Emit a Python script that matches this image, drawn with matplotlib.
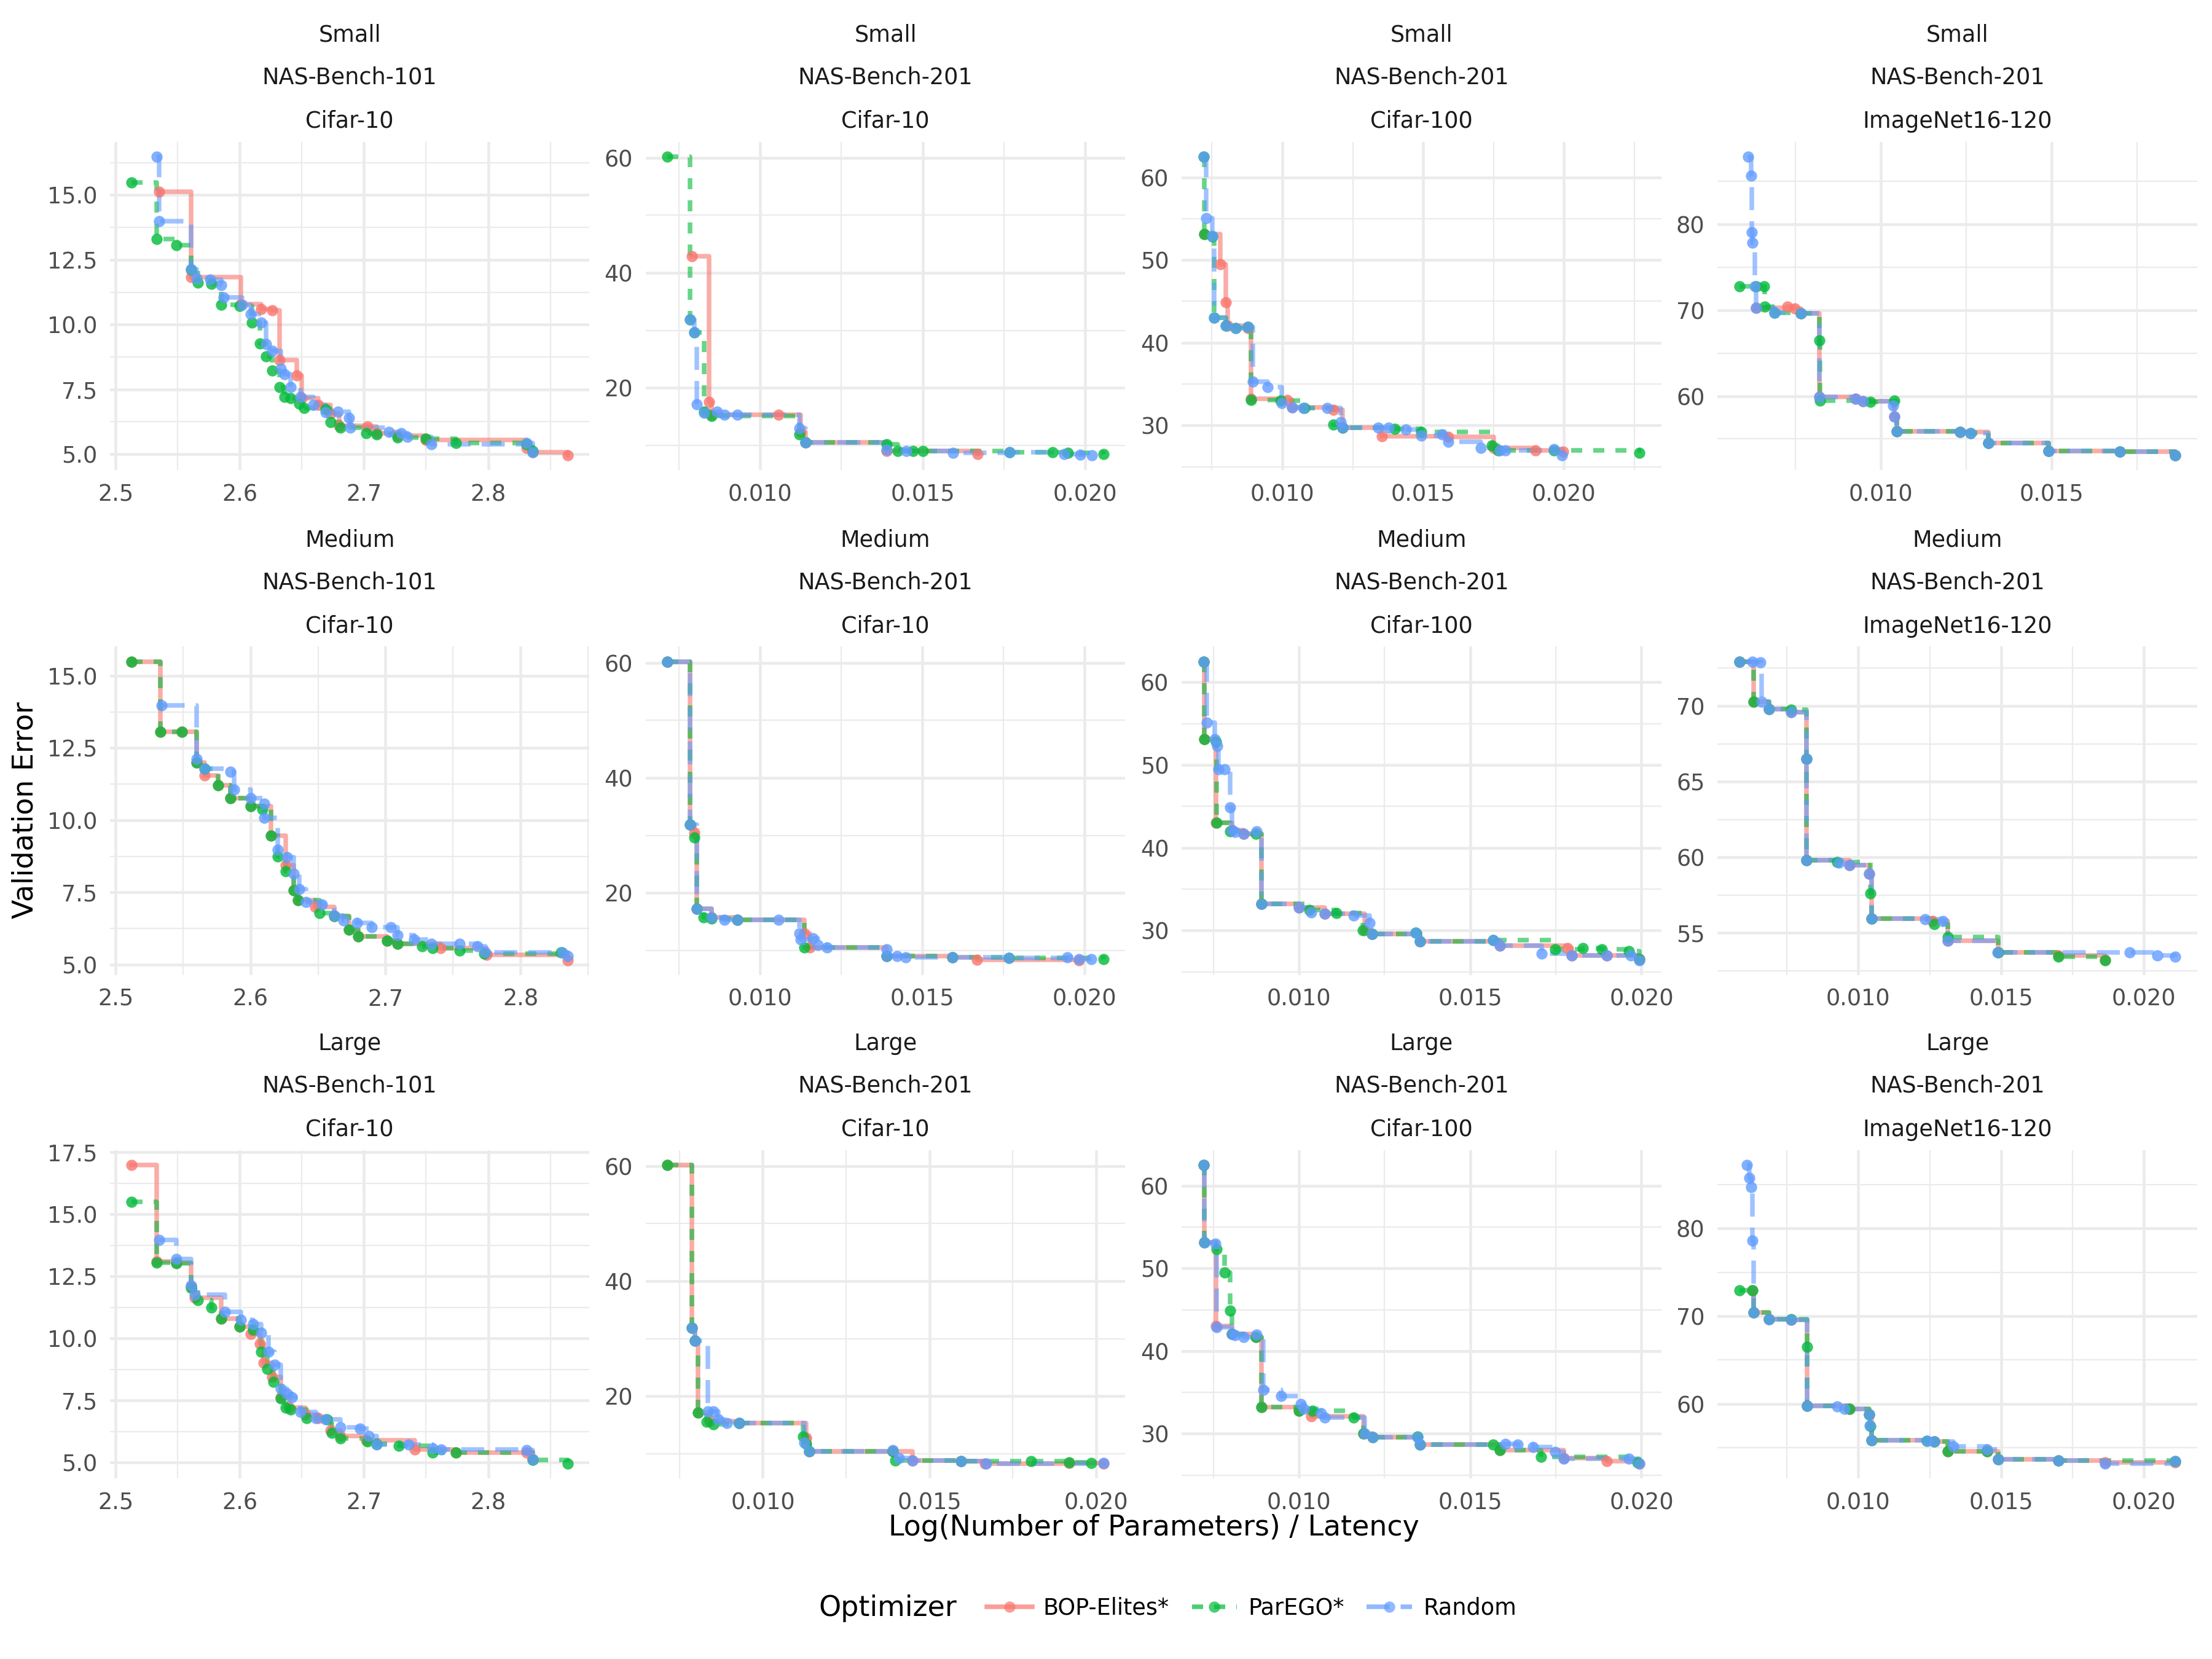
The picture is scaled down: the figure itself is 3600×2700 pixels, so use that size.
import matplotlib
matplotlib.use("Agg")
import matplotlib.pyplot as plt
from matplotlib.lines import Line2D
from matplotlib.ticker import MultipleLocator, FormatStrFormatter

# facet labels
sizes = ["Small", "Medium", "Large"]
benchmarks = ["NAS-Bench-101", "NAS-Bench-201", "NAS-Bench-201", "NAS-Bench-201"]
datasets = ["Cifar-10", "Cifar-10", "Cifar-100", "ImageNet16-120"]
optimizers = ["BOP-Elites*", "ParEGO*", "Random"]

# ---- Small / NAS-Bench-101 / Cifar-10
s101_bop_x = [2.535, 2.561, 2.601, 2.617, 2.626, 2.632, 2.646, 2.650, 2.663, 2.673, 2.680, 2.703, 2.710, 2.727, 2.750, 2.831, 2.836, 2.864]
s101_bop_y = [15.13, 11.82, 10.80, 10.59, 10.55, 8.64, 8.05, 7.16, 6.90, 6.57, 6.10, 6.06, 5.80, 5.72, 5.55, 5.25, 5.08, 4.96]
s101_par_x = [2.513, 2.533, 2.549, 2.561, 2.566, 2.577, 2.585, 2.600, 2.610, 2.616, 2.621, 2.626, 2.632, 2.636, 2.641, 2.648, 2.652, 2.669, 2.673, 2.681, 2.702, 2.710, 2.727, 2.750, 2.774, 2.831, 2.836]
s101_par_y = [15.48, 13.31, 13.07, 12.12, 11.62, 11.57, 10.76, 10.72, 10.08, 9.28, 8.77, 8.22, 7.58, 7.20, 7.16, 6.95, 6.78, 6.74, 6.23, 6.02, 5.80, 5.76, 5.64, 5.60, 5.42, 5.38, 5.13]
s101_rnd_x = [2.533, 2.535, 2.561, 2.565, 2.576, 2.585, 2.587, 2.602, 2.609, 2.617, 2.621, 2.626, 2.633, 2.636, 2.641, 2.649, 2.659, 2.669, 2.679, 2.688, 2.689, 2.720, 2.730, 2.735, 2.754, 2.831, 2.836]
s101_rnd_y = [16.48, 14.00, 12.14, 11.78, 11.74, 11.53, 11.06, 10.76, 10.42, 10.08, 9.24, 8.98, 8.30, 8.09, 7.58, 7.20, 6.90, 6.61, 6.65, 6.40, 6.02, 5.85, 5.80, 5.68, 5.38, 5.42, 5.08]

# ---- Small / NAS-Bench-201 / Cifar-10
s201c10_bop_x = [0.00790, 0.00843, 0.00850, 0.01057, 0.01124, 0.01140, 0.01390, 0.01669]
s201c10_bop_y = [42.9, 17.6, 15.3, 15.3, 12.3, 10.57, 9.05, 8.48]
s201c10_par_x = [0.00715, 0.00785, 0.00798, 0.00827, 0.00851, 0.01121, 0.01140, 0.01390, 0.01423, 0.01470, 0.01500, 0.01767, 0.01900, 0.01947, 0.02056]
s201c10_par_y = [60.2, 31.86, 29.6, 15.9, 15.1, 11.9, 10.57, 10.2, 9.05, 9.05, 9.05, 8.86, 8.86, 8.67, 8.48]
s201c10_rnd_x = [0.00785, 0.00798, 0.00805, 0.00827, 0.00867, 0.00891, 0.00930, 0.01121, 0.01140, 0.01390, 0.01449, 0.01594, 0.01767, 0.01936, 0.01984, 0.02021]
s201c10_rnd_y = [31.86, 29.6, 17.2, 15.7, 15.9, 15.3, 15.3, 13.0, 10.57, 9.24, 9.05, 8.67, 8.86, 8.48, 8.40, 8.30]

# ---- Small / NAS-Bench-201 / Cifar-100
s201c100_bop_x = [0.00724, 0.00779, 0.00800, 0.00807, 0.00877, 0.00889, 0.01017, 0.01035, 0.01182, 0.01215, 0.01353, 0.01590, 0.01750, 0.01900, 0.01998]
s201c100_bop_y = [53.1, 49.5, 44.9, 42.1, 41.8, 33.2, 33.1, 32.2, 31.9, 29.7, 28.7, 28.6, 27.3, 27.0, 26.8]
s201c100_par_x = [0.00720, 0.00724, 0.00752, 0.00757, 0.00800, 0.00834, 0.00877, 0.00889, 0.00993, 0.01078, 0.01182, 0.01215, 0.01400, 0.01494, 0.01745, 0.01765, 0.01965, 0.02268]
s201c100_par_y = [62.5, 53.1, 52.8, 43.0, 42.1, 41.8, 41.9, 33.1, 33.0, 32.1, 30.1, 29.7, 29.6, 29.2, 27.6, 27.0, 27.0, 26.7]
s201c100_rnd_x = [0.00720, 0.00730, 0.00752, 0.00757, 0.00800, 0.00834, 0.00877, 0.00895, 0.00947, 0.00999, 0.01035, 0.01075, 0.01160, 0.01207, 0.01215, 0.01341, 0.01378, 0.01439, 0.01494, 0.01567, 0.01589, 0.01705, 0.01773, 0.01793, 0.01965, 0.01993]
s201c100_rnd_y = [62.5, 55.1, 52.9, 43.0, 42.1, 41.8, 41.9, 35.3, 34.6, 32.7, 32.2, 32.1, 32.1, 30.4, 29.7, 29.7, 29.7, 29.5, 28.8, 28.9, 28.0, 27.3, 27.0, 27.0, 27.1, 26.4]

# ---- Small / NAS-Bench-201 / ImageNet16-120
s201in_bop_x = [0.00633, 0.00726, 0.00747, 0.00765, 0.00819, 0.00926, 0.00948, 0.01039, 0.01046, 0.01232, 0.01315, 0.01491, 0.01700, 0.01863]
s201in_bop_y = [70.3, 70.4, 70.2, 69.6, 59.9, 59.7, 59.4, 57.6, 55.9, 55.8, 54.5, 53.6, 53.5, 53.1]
s201in_par_x = [0.00585, 0.00633, 0.00657, 0.00659, 0.00688, 0.00765, 0.00819, 0.00822, 0.00969, 0.01039, 0.01046, 0.01232, 0.01263, 0.01315, 0.01491, 0.01700, 0.01863]
s201in_par_y = [72.8, 72.8, 72.8, 70.4, 69.7, 69.6, 66.5, 59.5, 59.3, 59.5, 55.9, 55.8, 55.7, 54.5, 53.6, 53.5, 53.1]
s201in_rnd_x = [0.00610, 0.00620, 0.00621, 0.00623, 0.00630, 0.00633, 0.00688, 0.00765, 0.00819, 0.00926, 0.00948, 0.01036, 0.01039, 0.01046, 0.01232, 0.01263, 0.01315, 0.01491, 0.01700, 0.01863]
s201in_rnd_y = [87.9, 85.7, 79.1, 77.9, 72.8, 70.3, 69.7, 69.6, 59.9, 59.7, 59.4, 58.9, 57.6, 55.9, 55.8, 55.7, 54.5, 53.6, 53.5, 53.1]

# ---- Medium / NAS-Bench-101 / Cifar-10
m101_bop_x = [2.512, 2.533, 2.549, 2.560, 2.566, 2.576, 2.585, 2.600, 2.615, 2.626, 2.632, 2.635, 2.648, 2.662, 2.673, 2.680, 2.701, 2.709, 2.741, 2.775, 2.835]
m101_bop_y = [15.49, 13.07, 13.07, 12.00, 11.55, 11.21, 10.76, 10.49, 9.47, 8.45, 7.58, 7.23, 7.00, 6.67, 6.21, 5.98, 5.83, 5.72, 5.57, 5.34, 5.15]
m101_par_x = [2.512, 2.533, 2.549, 2.560, 2.566, 2.576, 2.585, 2.600, 2.609, 2.615, 2.620, 2.626, 2.632, 2.635, 2.651, 2.662, 2.673, 2.680, 2.701, 2.709, 2.727, 2.735, 2.755, 2.773, 2.830]
m101_par_y = [15.49, 13.07, 13.07, 12.00, 11.78, 11.21, 10.76, 10.49, 10.38, 9.47, 8.75, 8.22, 7.58, 7.23, 6.78, 6.67, 6.21, 5.98, 5.83, 5.72, 5.64, 5.57, 5.49, 5.38, 5.42]
m101_rnd_x = [2.534, 2.560, 2.566, 2.585, 2.588, 2.600, 2.610, 2.610, 2.620, 2.627, 2.632, 2.636, 2.641, 2.653, 2.662, 2.669, 2.679, 2.690, 2.704, 2.709, 2.721, 2.734, 2.755, 2.768, 2.774, 2.831, 2.835]
m101_rnd_y = [13.98, 12.12, 11.78, 11.67, 11.06, 10.76, 10.57, 10.08, 8.98, 8.71, 8.14, 7.61, 7.16, 7.08, 6.70, 6.52, 6.44, 6.29, 6.29, 6.02, 5.87, 5.72, 5.72, 5.64, 5.42, 5.42, 5.30]

# ---- Medium / NAS-Bench-201 / Cifar-10
m201c10_bop_x = [0.00715, 0.00785, 0.00798, 0.00805, 0.00850, 0.00930, 0.01137, 0.01153, 0.01390, 0.01594, 0.01669, 0.01984]
m201c10_bop_y = [60.2, 31.86, 30.5, 17.2, 15.7, 15.3, 13.0, 10.57, 9.05, 8.86, 8.40, 8.30]
m201c10_par_x = [0.00715, 0.00785, 0.00798, 0.00805, 0.00827, 0.00850, 0.00930, 0.01137, 0.01390, 0.01594, 0.01767, 0.02059]
m201c10_par_y = [60.2, 31.86, 29.6, 17.2, 15.7, 15.5, 15.3, 10.57, 9.05, 8.86, 8.67, 8.48]
m201c10_rnd_x = [0.00715, 0.00785, 0.00805, 0.00850, 0.00891, 0.00930, 0.01057, 0.01121, 0.01126, 0.01163, 0.01179, 0.01206, 0.01390, 0.01390, 0.01423, 0.01449, 0.01594, 0.01767, 0.01947, 0.01984, 0.02021]
m201c10_rnd_y = [60.2, 31.86, 17.2, 15.7, 15.3, 15.3, 15.3, 13.0, 11.9, 12.1, 10.95, 10.57, 10.2, 9.05, 9.05, 8.86, 8.86, 8.67, 8.86, 8.48, 8.48]

# ---- Medium / NAS-Bench-201 / Cifar-100
m201c100_bop_x = [0.00721, 0.00724, 0.00757, 0.00804, 0.00839, 0.00890, 0.01000, 0.01075, 0.01191, 0.01214, 0.01354, 0.01587, 0.01783, 0.01796, 0.01899, 0.01994]
m201c100_bop_y = [62.5, 53.1, 43.0, 42.1, 41.7, 33.2, 32.8, 32.0, 30.0, 29.6, 28.7, 28.2, 27.9, 27.0, 27.0, 26.5]
m201c100_par_x = [0.00721, 0.00724, 0.00757, 0.00759, 0.00799, 0.00874, 0.00890, 0.01030, 0.01110, 0.01186, 0.01214, 0.01341, 0.01354, 0.01567, 0.01748, 0.01828, 0.01884, 0.01964, 0.01994]
m201c100_par_y = [62.5, 53.1, 52.8, 43.0, 42.0, 41.7, 33.2, 32.5, 32.1, 30.0, 29.6, 29.7, 28.7, 28.8, 27.7, 27.9, 27.7, 27.5, 26.5]
m201c100_rnd_x = [0.00721, 0.00731, 0.00754, 0.00762, 0.00764, 0.00782, 0.00799, 0.00804, 0.00814, 0.00839, 0.00876, 0.00890, 0.01000, 0.01035, 0.01075, 0.01160, 0.01206, 0.01214, 0.01341, 0.01354, 0.01567, 0.01587, 0.01708, 0.01796, 0.01899, 0.01969, 0.01994]
m201c100_rnd_y = [62.5, 55.1, 53.1, 52.3, 49.5, 49.5, 44.9, 42.1, 41.9, 41.7, 42.0, 33.2, 32.8, 32.2, 32.0, 31.8, 30.9, 29.6, 29.7, 28.7, 28.8, 28.2, 27.2, 27.0, 27.0, 27.0, 26.4]

# ---- Medium / NAS-Bench-201 / ImageNet16-120
m201in_bop_x = [0.00584, 0.00634, 0.00688, 0.00766, 0.00819, 0.00819, 0.00969, 0.01037, 0.01047, 0.01259, 0.01314, 0.01490, 0.01700, 0.01863]
m201in_bop_y = [72.93, 70.3, 69.8, 69.6, 66.5, 59.8, 59.5, 58.9, 55.97, 55.8, 54.5, 53.7, 53.5, 53.25]
m201in_par_x = [0.00584, 0.00634, 0.00688, 0.00766, 0.00819, 0.00819, 0.00926, 0.01043, 0.01047, 0.01265, 0.01314, 0.01490, 0.01700, 0.01863]
m201in_par_y = [72.93, 70.3, 69.8, 69.75, 66.5, 59.8, 59.7, 57.6, 55.97, 55.6, 54.75, 53.7, 53.45, 53.2]
m201in_rnd_x = [0.00584, 0.00630, 0.00658, 0.00661, 0.00688, 0.00766, 0.00819, 0.00819, 0.00932, 0.00969, 0.01037, 0.01047, 0.01234, 0.01296, 0.01314, 0.01487, 0.01950, 0.02046, 0.02110]
m201in_rnd_y = [72.93, 72.93, 72.86, 70.3, 69.8, 69.6, 66.5, 59.8, 59.65, 59.5, 58.9, 55.97, 55.9, 55.8, 54.5, 53.7, 53.7, 53.5, 53.45]

# ---- Large / NAS-Bench-101 / Cifar-10
l101_bop_x = [2.513, 2.533, 2.549, 2.561, 2.564, 2.585, 2.600, 2.609, 2.616, 2.619, 2.626, 2.633, 2.640, 2.653, 2.663, 2.673, 2.681, 2.702, 2.741, 2.774, 2.831, 2.836]
l101_bop_y = [16.99, 13.10, 13.05, 12.08, 11.64, 10.80, 10.49, 10.18, 9.78, 9.03, 8.46, 7.62, 7.22, 6.95, 6.78, 6.29, 6.07, 5.89, 5.54, 5.41, 5.41, 5.14]
l101_par_x = [2.513, 2.533, 2.549, 2.561, 2.566, 2.577, 2.585, 2.600, 2.611, 2.617, 2.622, 2.627, 2.633, 2.637, 2.641, 2.654, 2.670, 2.674, 2.681, 2.703, 2.710, 2.728, 2.755, 2.774, 2.836, 2.864]
l101_par_y = [15.50, 13.05, 13.03, 12.04, 11.55, 11.24, 10.80, 10.49, 10.36, 9.47, 8.77, 8.24, 7.57, 7.22, 7.13, 6.78, 6.73, 6.20, 5.98, 5.85, 5.76, 5.67, 5.41, 5.41, 5.10, 4.96]
l101_rnd_x = [2.535, 2.549, 2.561, 2.564, 2.588, 2.601, 2.611, 2.617, 2.623, 2.628, 2.633, 2.638, 2.642, 2.649, 2.661, 2.669, 2.681, 2.697, 2.704, 2.710, 2.736, 2.755, 2.762, 2.831, 2.836]
l101_rnd_y = [13.98, 13.19, 12.13, 11.77, 11.07, 10.76, 10.58, 10.23, 9.47, 8.94, 7.97, 7.79, 7.62, 7.04, 6.78, 6.73, 6.42, 6.38, 6.07, 5.72, 5.72, 5.58, 5.54, 5.50, 5.14]

# ---- Large / NAS-Bench-201 / Cifar-10
l201c10_bop_x = [0.00714, 0.00787, 0.00797, 0.00805, 0.00840, 0.00929, 0.01130, 0.01140, 0.01390, 0.01449, 0.01594, 0.01666, 0.01919, 0.02022]
l201c10_bop_y = [60.2, 31.86, 29.6, 17.2, 15.7, 15.3, 12.8, 10.4, 10.4, 8.86, 8.67, 8.29, 8.40, 8.29]
l201c10_par_x = [0.00714, 0.00787, 0.00797, 0.00805, 0.00831, 0.00852, 0.00929, 0.01120, 0.01130, 0.01140, 0.01390, 0.01398, 0.01594, 0.01805, 0.01919, 0.01986]
l201c10_par_y = [60.2, 31.86, 29.6, 17.2, 15.5, 15.1, 15.3, 13.0, 11.7, 10.4, 10.4, 8.86, 8.67, 8.67, 8.48, 8.40]
l201c10_rnd_x = [0.00787, 0.00797, 0.00836, 0.00852, 0.00867, 0.00893, 0.00929, 0.01125, 0.01140, 0.01390, 0.01408, 0.01449, 0.01594, 0.01671, 0.02022]
l201c10_rnd_y = [31.86, 29.6, 17.4, 17.4, 16.0, 15.3, 15.3, 11.9, 10.4, 10.6, 9.24, 8.86, 8.67, 8.29, 8.40]

# ---- Large / NAS-Bench-201 / Cifar-100
l201c100_bop_x = [0.00721, 0.00724, 0.00757, 0.00804, 0.00874, 0.00890, 0.01000, 0.01035, 0.01188, 0.01216, 0.01354, 0.01587, 0.01773, 0.01899, 0.01994]
l201c100_bop_y = [62.5, 53.1, 43.0, 42.1, 41.7, 33.2, 32.8, 32.1, 30.0, 29.6, 28.7, 28.0, 27.1, 26.7, 26.4]
l201c100_par_x = [0.00721, 0.00724, 0.00759, 0.00782, 0.00799, 0.00804, 0.00874, 0.00890, 0.01000, 0.01040, 0.01160, 0.01188, 0.01216, 0.01346, 0.01354, 0.01567, 0.01587, 0.01706, 0.01989]
l201c100_par_y = [62.5, 53.1, 52.35, 49.5, 44.9, 42.1, 41.7, 33.2, 32.8, 32.8, 32.0, 30.0, 29.6, 29.7, 28.7, 28.7, 28.0, 27.2, 26.55]
l201c100_rnd_x = [0.00721, 0.00724, 0.00756, 0.00759, 0.00804, 0.00814, 0.00839, 0.00876, 0.00895, 0.00947, 0.01005, 0.01015, 0.01065, 0.01075, 0.01191, 0.01216, 0.01346, 0.01354, 0.01602, 0.01638, 0.01683, 0.01748, 0.01773, 0.01964, 0.01994]
l201c100_rnd_y = [62.5, 53.1, 53.0, 42.9, 42.1, 41.9, 41.7, 42.0, 35.3, 34.6, 33.6, 33.0, 32.5, 32.0, 30.0, 29.6, 29.6, 28.7, 28.8, 28.7, 28.4, 27.8, 27.0, 27.0, 26.4]

# ---- Large / NAS-Bench-201 / ImageNet16-120
l201in_bop_x = [0.00630, 0.00634, 0.00688, 0.00766, 0.00821, 0.00969, 0.01037, 0.01046, 0.01265, 0.01314, 0.01450, 0.01490, 0.01700, 0.01863, 0.02110]
l201in_bop_y = [72.9, 70.39, 69.64, 69.57, 59.78, 59.41, 58.78, 55.84, 55.66, 54.54, 54.54, 53.66, 53.54, 53.30, 53.30]
l201in_par_x = [0.00584, 0.00630, 0.00634, 0.00688, 0.00766, 0.00821, 0.00821, 0.00969, 0.01037, 0.01043, 0.01046, 0.01240, 0.01265, 0.01314, 0.01450, 0.01490, 0.01700, 0.02110]
l201in_par_y = [72.9, 72.9, 70.39, 69.64, 69.64, 66.52, 59.78, 59.41, 58.78, 57.41, 55.84, 55.79, 55.66, 54.54, 54.54, 53.66, 53.54, 53.42]
l201in_rnd_x = [0.00609, 0.00618, 0.00626, 0.00630, 0.00634, 0.00688, 0.00766, 0.00821, 0.00926, 0.00951, 0.01037, 0.01041, 0.01046, 0.01240, 0.01265, 0.01333, 0.01450, 0.01490, 0.01700, 0.01863, 0.02110]
l201in_rnd_y = [87.24, 85.74, 84.74, 78.63, 70.39, 69.64, 69.57, 59.78, 59.66, 59.41, 58.78, 57.53, 55.84, 55.79, 55.66, 55.16, 54.79, 53.66, 53.54, 53.17, 53.42]

# grid of panels (rows = size, cols = benchmark/dataset)
panels = [
    [(s101_bop_x, s101_bop_y, s101_par_x, s101_par_y, s101_rnd_x, s101_rnd_y),
     (s201c10_bop_x, s201c10_bop_y, s201c10_par_x, s201c10_par_y, s201c10_rnd_x, s201c10_rnd_y),
     (s201c100_bop_x, s201c100_bop_y, s201c100_par_x, s201c100_par_y, s201c100_rnd_x, s201c100_rnd_y),
     (s201in_bop_x, s201in_bop_y, s201in_par_x, s201in_par_y, s201in_rnd_x, s201in_rnd_y)],
    [(m101_bop_x, m101_bop_y, m101_par_x, m101_par_y, m101_rnd_x, m101_rnd_y),
     (m201c10_bop_x, m201c10_bop_y, m201c10_par_x, m201c10_par_y, m201c10_rnd_x, m201c10_rnd_y),
     (m201c100_bop_x, m201c100_bop_y, m201c100_par_x, m201c100_par_y, m201c100_rnd_x, m201c100_rnd_y),
     (m201in_bop_x, m201in_bop_y, m201in_par_x, m201in_par_y, m201in_rnd_x, m201in_rnd_y)],
    [(l101_bop_x, l101_bop_y, l101_par_x, l101_par_y, l101_rnd_x, l101_rnd_y),
     (l201c10_bop_x, l201c10_bop_y, l201c10_par_x, l201c10_par_y, l201c10_rnd_x, l201c10_rnd_y),
     (l201c100_bop_x, l201c100_bop_y, l201c100_par_x, l201c100_par_y, l201c100_rnd_x, l201c100_rnd_y),
     (l201in_bop_x, l201in_bop_y, l201in_par_x, l201in_par_y, l201in_rnd_x, l201in_rnd_y)],
]

colors = ["#F8766D", "#00BA38", "#619CFF"]
linestyles = ["-", (0, (2.4, 2.4)), (0, (5.0, 2.4))]

x_major = [0.1, 0.005, 0.005, 0.005]
x_fmt = ["%.1f", "%.3f", "%.3f", "%.3f"]
y_major = [[2.5, 20, 10, 10], [2.5, 20, 10, 5], [2.5, 20, 10, 10]]
y_fmt = ["%.1f", "%d", "%d", "%d"]

col_left = [0.0497, 0.2919, 0.5342, 0.7765]
col_w = 0.2168
row_bottom = [0.7166, 0.4122, 0.1088]
row_h = 0.198

fig = plt.figure(figsize=(12, 9), dpi=300)

for r in range(3):
    for c in range(4):
        ax = fig.add_axes([col_left[c], row_bottom[r], col_w, row_h])
        d = panels[r][c]
        for k in range(3):
            ax.step(d[2 * k], d[2 * k + 1], where="post", color=colors[k],
                    lw=1.8, alpha=0.6, linestyle=linestyles[k], zorder=2)
        for k in range(3):
            ax.plot(d[2 * k], d[2 * k + 1], "o", color=colors[k], ms=4.4,
                    mew=0, alpha=0.8, zorder=3)
        ax.margins(0.05)
        ax.xaxis.set_major_locator(MultipleLocator(x_major[c]))
        ax.xaxis.set_minor_locator(MultipleLocator(x_major[c] / 2))
        ax.yaxis.set_major_locator(MultipleLocator(y_major[r][c]))
        ax.yaxis.set_minor_locator(MultipleLocator(y_major[r][c] / 2))
        ax.xaxis.set_major_formatter(FormatStrFormatter(x_fmt[c]))
        ax.yaxis.set_major_formatter(FormatStrFormatter(y_fmt[c]))
        ax.grid(which="major", color="#EBEBEB", lw=1.1)
        ax.grid(which="minor", color="#EBEBEB", lw=0.55)
        ax.set_axisbelow(True)
        ax.tick_params(which="both", length=0, labelsize=8.8, labelcolor="#4D4D4D", pad=5)
        for s in ax.spines.values():
            s.set_visible(False)

        # facet strip (three stacked labels)
        cx = col_left[c] + col_w / 2
        top = row_bottom[r] + row_h
        fig.text(cx, top + 0.0642, sizes[r], ha="center", va="center", fontsize=8.8, color="#1A1A1A")
        fig.text(cx, top + 0.0387, benchmarks[c], ha="center", va="center", fontsize=8.8, color="#1A1A1A")
        fig.text(cx, top + 0.0123, datasets[c], ha="center", va="center", fontsize=8.8, color="#1A1A1A")

fig.text(0.5216, 0.079, "Log(Number of Parameters) / Latency", ha="center", va="center", fontsize=11)
fig.text(0.0115, 0.5116, "Validation Error", ha="center", va="center", rotation=90, fontsize=11)

handles = [Line2D([0], [0], color=colors[k], lw=1.8, alpha=0.7, linestyle=linestyles[k],
                  marker="o", ms=4.4, mew=0) for k in range(3)]
fig.text(0.4324, 0.0306, "Optimizer", ha="right", va="center", fontsize=11)
fig.legend(handles, optimizers, loc="center left", bbox_to_anchor=(0.437, 0.0306),
           ncol=3, frameon=False, fontsize=8.8, handlelength=2.0, handletextpad=0.5,
           columnspacing=1.0)

fig.savefig("out.png", dpi=300)
plt.close()
